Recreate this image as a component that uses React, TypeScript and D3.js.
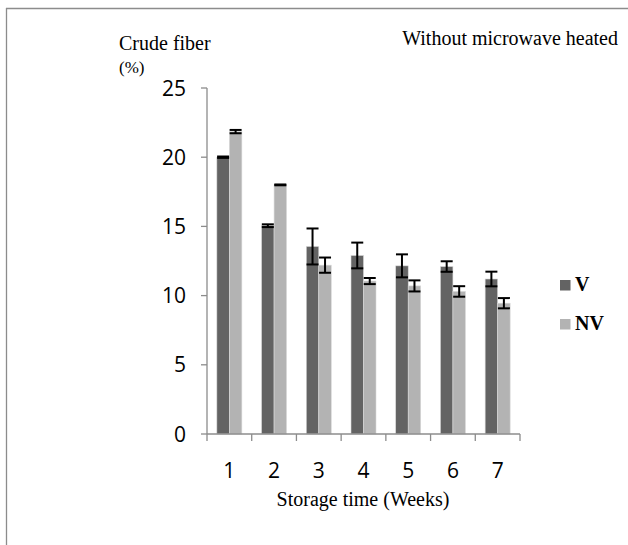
import React from "react";
import * as d3 from "d3";

const weeks = ["1", "2", "3", "4", "5", "6", "7"];
const seriesNames = ["V", "NV"];
const vMeans = [20.0, 15.05, 13.55, 12.9, 12.15, 12.1, 11.2];
const vErrs = [0.05, 0.1, 1.3, 0.93, 0.83, 0.38, 0.53];
const nvMeans = [21.85, 18.0, 12.2, 11.05, 10.7, 10.3, 9.45];
const nvErrs = [0.12, 0.03, 0.55, 0.22, 0.4, 0.38, 0.37];
const yTicks = [0, 5, 10, 15, 20, 25];
const colors = ["#636363", "#b3b3b3"];

export default function App() {
  const W = 628, H = 545;
  const x0 = 207, x1 = 520, yTop = 88, yBot = 434;
  const x = d3.scaleBand<string>().domain(weeks).range([x0, x1]).paddingInner(0).paddingOuter(0);
  const y = d3.scaleLinear().domain([0, 25]).range([yBot, yTop]);
  const barW = 12.5;
  const series = [
    { means: vMeans, errs: vErrs },
    { means: nvMeans, errs: nvErrs },
  ];
  const axisColor = "#8c8c8c";
  const tickFont = "'Open Sans', sans-serif";
  const serif = "'Liberation Serif', 'Times New Roman', serif";
  return (
    <svg width={W} height={H} style={{ position: "absolute", left: 0, top: 0 }}>
      <rect x={0} y={0} width={W} height={H} fill="#fff" />
      <line x1={6.5} y1={8} x2={6.5} y2={H} stroke={axisColor} strokeWidth={1.3} />
      <line x1={6} y1={8.5} x2={W} y2={8.5} stroke={axisColor} strokeWidth={1.3} />
      <text x={119} y={50} fontFamily={serif} fontSize={20}>Crude fiber</text>
      <text x={119} y={73} fontFamily={serif} fontSize={17}>(%)</text>
      <text x={618} y={45} textAnchor="end" fontFamily={serif} fontSize={20}>Without microwave heated</text>
      {/* bars */}
      {weeks.map((w, i) => {
        const c = (x(w) as number) + x.bandwidth() / 2;
        return (
          <g key={w}>
            {series.map((s, k) => {
              const bx = c - barW + k * barW;
              const v = s.means[i];
              return (
                <rect key={k} x={bx} y={y(v)} width={barW} height={yBot - y(v)} fill={colors[k]} stroke="#d9d9d9" strokeWidth={0.6} />
              );
            })}
          </g>
        );
      })}
      {/* error bars */}
      {weeks.map((w, i) => {
        const c = (x(w) as number) + x.bandwidth() / 2;
        return (
          <g key={"e" + w}>
            {series.map((s, k) => {
              const cx = c - barW / 2 + k * barW;
              const hi = y(s.means[i] + s.errs[i]);
              const lo = y(s.means[i] - s.errs[i]);
              return (
                <g key={k} stroke="#000" strokeWidth={2}>
                  <line x1={cx} x2={cx} y1={hi} y2={lo} />
                  <line x1={cx - 6} x2={cx + 6} y1={hi} y2={hi} />
                  <line x1={cx - 6} x2={cx + 6} y1={lo} y2={lo} />
                </g>
              );
            })}
          </g>
        );
      })}
      {/* y axis */}
      <line x1={x0} x2={x0} y1={yTop} y2={yBot} stroke={axisColor} strokeWidth={1.3} />
      {yTicks.map((t) => (
        <g key={t}>
          <line x1={x0 - 6} x2={x0} y1={y(t)} y2={y(t)} stroke={axisColor} strokeWidth={1.3} />
          <text x={186} y={y(t)} dy="0.36em" textAnchor="end" fontFamily={tickFont} fontSize={21}>{t}</text>
        </g>
      ))}
      {/* x axis */}
      <line x1={x0} x2={x1} y1={yBot} y2={yBot} stroke={axisColor} strokeWidth={1.3} />
      {[...weeks.map((w) => x(w) as number), x1].map((p, i) => (
        <line key={i} x1={p} x2={p} y1={yBot} y2={yBot + 7} stroke={axisColor} strokeWidth={1.3} />
      ))}
      {weeks.map((w) => (
        <text key={w} x={(x(w) as number) + x.bandwidth() / 2} y={470} dy="0.36em" textAnchor="middle" fontFamily={tickFont} fontSize={21}>{w}</text>
      ))}
      <text x={363} y={506} textAnchor="middle" fontFamily={serif} fontSize={20}>Storage time (Weeks)</text>
      {/* legend */}
      {seriesNames.map((n, k) => (
        <g key={n} transform={`translate(560, ${280 + k * 39})`}>
          <rect x={0} y={0} width={10.5} height={10.5} fill={colors[k]} />
          <text x={15} y={11} fontFamily={serif} fontSize={20} fontWeight="bold">{n}</text>
        </g>
      ))}
    </svg>
  );
}
